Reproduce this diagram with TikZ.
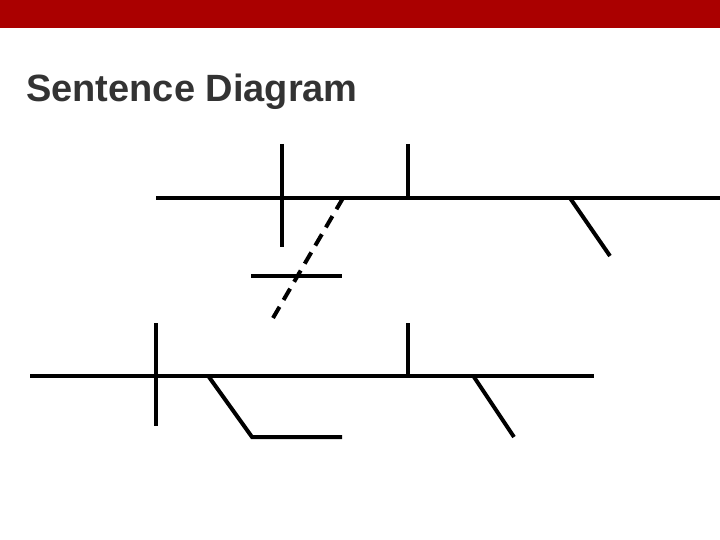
\documentclass[tikz,border=0pt]{standalone}
\usepackage{fontspec}
\setmainfont{Liberation Sans}
\usepackage{tikz}
\definecolor{barred}{RGB}{170,0,0}
\definecolor{titlegray}{RGB}{51,51,51}

\begin{document}
\begin{tikzpicture}[x=1bp,y=-1bp]

\tikzstyle{rule}=[line width=4bp,black]
\tikzstyle{modline}=[rule, dash pattern=on 13bp off 8bp]
\tikzstyle{title}=[anchor=base west,inner sep=0pt,text=titlegray,font=\bfseries\fontsize{38bp}{42bp}\selectfont]

\useasboundingbox (0,0) rectangle (720,540);
\fill[barred] (0,0) rectangle (720,28);

\node[title] (head) at (26,102) {Sentence Diagram};

% upper clause
\coordinate (base1a) at (156,198);
\coordinate (base1b) at (720,198);
\coordinate (subj1a) at (282,144);
\coordinate (subj1b) at (282,247);
\coordinate (obj1a) at (408,144);
\coordinate (obj1b) at (408,198);
\coordinate (mod1a) at (570,198);
\coordinate (mod1b) at (610,256);
\coordinate (link1a) at (343,198);
\coordinate (link1b) at (273,318);
\coordinate (word1a) at (251,276);
\coordinate (word1b) at (342,276);

\draw[rule] (base1a) -- (base1b);
\draw[rule] (subj1a) -- (subj1b);
\draw[rule] (obj1a) -- (obj1b);
\draw[rule] (mod1a) -- (mod1b);
\draw[rule] (word1a) -- (word1b);
\draw[modline] (link1a) -- (link1b);

% lower clause
\coordinate (base2a) at (30,376);
\coordinate (base2b) at (594,376);
\coordinate (subj2a) at (156,323);
\coordinate (subj2b) at (156,426);
\coordinate (obj2a) at (408,323);
\coordinate (obj2b) at (408,377);
\coordinate (mod2a) at (209,377);
\coordinate (mod2b) at (252,437);
\coordinate (mod2c) at (342,437);
\coordinate (mod3a) at (474,377);
\coordinate (mod3b) at (514,437);

\draw[rule] (base2a) -- (base2b);
\draw[rule] (subj2a) -- (subj2b);
\draw[rule] (obj2a) -- (obj2b);
\draw[rule] (mod2a) -- (mod2b) -- (mod2c);
\draw[rule] (mod3a) -- (mod3b);

\end{tikzpicture}
\end{document}
